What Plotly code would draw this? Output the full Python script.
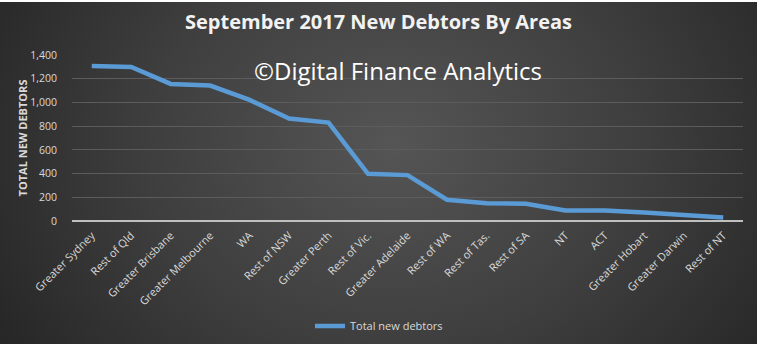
import plotly.graph_objects as go
import urllib.parse

areas = ["Greater Sydney", "Rest of Qld", "Greater Brisbane", "Greater Melbourne", "WA",
         "Rest of NSW", "Greater Perth", "Rest of Vic.", "Greater Adelaide", "Rest of WA",
         "Rest of Tas.", "Rest of SA", "NT", "ACT", "Greater Hobart", "Greater Darwin", "Rest of NT"]
new_debtors = [1307, 1299, 1156, 1142, 1021, 864, 830, 398, 387, 179,
               150, 145, 89, 88, 72, 53, 30]
y_ticks = [0, 200, 400, 600, 800, 1000, 1200, 1400]

W, H = 757, 344
L, R, T, B = 72, 14, 55, 123
PW, PH = W - L - R, H - T - B

svg = (
    '<svg xmlns="http://www.w3.org/2000/svg" width="757" height="344" viewBox="0 0 757 344" preserveAspectRatio="none">'
    '<defs><radialGradient id="g" cx="0.52" cy="0.42" r="0.6" gradientTransform="translate(0.52 0.42) scale(1 1.8) translate(-0.52 -0.42)">'
    '<stop offset="0" stop-color="#555555"/><stop offset="0.55" stop-color="#3e3e3e"/>'
    '<stop offset="1" stop-color="#272727"/></radialGradient></defs>'
    '<rect width="757" height="344" fill="url(#g)"/></svg>'
)
bg_uri = "data:image/svg+xml;charset=utf-8," + urllib.parse.quote(svg)

fig = go.Figure()
fig.add_trace(go.Scatter(
    x=areas, y=new_debtors, mode="lines", name="Total new debtors",
    line=dict(color="#5b9bd5", width=4.5, shape="linear"),
))

fig.update_layout(
    width=W, height=H,
    margin=dict(l=L, r=R, t=T, b=B, autoexpand=False),
    paper_bgcolor="#3a3a3a",
    plot_bgcolor="rgba(0,0,0,0)",
    images=[dict(source=bg_uri, xref="paper", yref="paper", x=-L / PW, y=1 + T / PH,
                 sizex=W / PW, sizey=H / PH,
                 xanchor="left", yanchor="top", layer="below", sizing="stretch")],
    title=dict(text="<b>September 2017 New Debtors By Areas</b>", x=0.5, xanchor="center",
               y=1 - 22 / H, yanchor="middle",
               font=dict(family="Open Sans", size=20, color="#f2f2f2")),
    showlegend=True,
    legend=dict(orientation="h", x=(379 - L) / PW, xanchor="center", y=-(326 - T - PH) / PH,
                yanchor="middle",
                font=dict(family="Open Sans", size=11, color="#d9d9d9"),
                bgcolor="rgba(0,0,0,0)"),
    font=dict(family="Open Sans", color="#d9d9d9"),
)

fig.update_xaxes(
    type="category", range=[-0.5, len(areas) - 0.5], automargin=False,
    tickangle=-45, tickfont=dict(family="Open Sans", size=11, color="#d9d9d9"),
    showgrid=False, showline=False, ticks="", zeroline=False, ticklabelstandoff=5,
)
fig.update_yaxes(
    range=[0, 1400], tickvals=y_ticks, tickformat=",", automargin=False,
    tickfont=dict(family="Open Sans", size=10.5, color="#d9d9d9"),
    showgrid=True, gridcolor="#5c5c5c", gridwidth=1, zeroline=True,
    zerolinecolor="#bfbfbf", zerolinewidth=1.5, ticks="", ticklabelstandoff=14,
    title=dict(text="<b>TOTAL NEW DEBTORS</b>", font=dict(family="Open Sans", size=11, color="#d9d9d9"),
               standoff=0),
)

fig.add_annotation(
    text="©Digital Finance Analytics", xref="paper", yref="paper",
    x=(398 - L) / PW, y=(221 - 70) / PH, xanchor="center", yanchor="middle",
    showarrow=False, font=dict(family="Open Sans", size=24, color="#ffffff"),
)

fig.add_shape(type="rect", xref="paper", yref="paper", x0=-L / PW, x1=1 + R / PW,
              y0=1 + (T - 2) / PH, y1=1 + (T + 3) / PH, fillcolor="#ffffff", line=dict(width=0),
              layer="above")

fig.write_html("out.html")
